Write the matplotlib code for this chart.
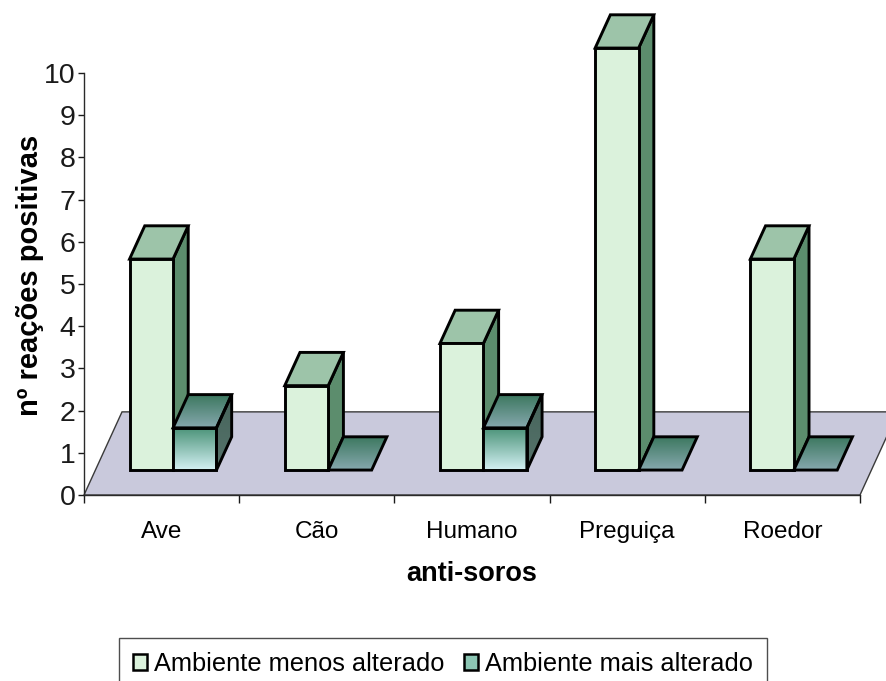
import numpy as np
import matplotlib
matplotlib.use("Agg")
import matplotlib.pyplot as plt
from matplotlib.patches import Polygon, Patch
from matplotlib.colors import to_rgb

plt.rcParams['font.family'] = ['Liberation Sans', 'DejaVu Sans']

# data
categories = ['Ave', 'Cão', 'Humano', 'Preguiça', 'Roedor']
menos_alterado = [5, 2, 3, 10, 5]
mais_alterado = [1, 0, 1, 0, 0]
series_names = ['Ambiente menos alterado', 'Ambiente mais alterado']
yticks = list(range(0, 11))

# oblique "3-D" projection: depth z in [0, 1] shifts points right/up
DX = 0.245   # category units per unit depth
DY = 1.97    # value units per unit depth
Z0, Z1 = 0.30, 0.70
BAR_W = 0.28
EDGE_LW = 2.1


def proj(x, y, z):
    return (x + z * DX, y + z * DY)


fig = plt.figure(figsize=(8.86, 6.81), dpi=100)
ax = fig.add_axes([84 / 886, 186 / 681, 776 / 886, 422 / 681])


def flat_face(pts, color, zorder, lw=EDGE_LW):
    ax.add_patch(Polygon(pts, closed=True, facecolor=color, edgecolor='black',
                         lw=lw, joinstyle='miter', zorder=zorder, clip_on=False))


def gradient_face(pts, c_top, c_bot, zorder, lw=EDGE_LW):
    poly = Polygon(pts, closed=True, facecolor='none', edgecolor='black',
                   lw=lw, joinstyle='miter', zorder=zorder + 0.05, clip_on=False)
    xs = [p[0] for p in pts]
    ys = [p[1] for p in pts]
    t = np.linspace(0, 1, 64)[:, None]
    cols = (1 - t) * np.array(to_rgb(c_top)) + t * np.array(to_rgb(c_bot))
    im = ax.imshow(cols[:, None, :], extent=(min(xs), max(xs), min(ys), max(ys)),
                   origin='upper', aspect='auto', interpolation='bilinear',
                   zorder=zorder)
    ax.add_patch(poly)
    im.set_clip_path(poly)
    im.set_clip_box(fig.bbox)


# floor
n = len(categories)
floor = [proj(-0.5, 0, 0), proj(n - 0.5, 0, 0), proj(n - 0.5, 0, 1), proj(-0.5, 0, 1)]
ax.add_patch(Polygon(floor, closed=True, facecolor='#c9c9dc', edgecolor='#3a3a3a',
                     lw=1.0, zorder=1, clip_on=False))

styles = [
    dict(front=('#dbf2dc', '#dbf2dc'), top=('#9dc4a9', '#a5c9b0'), side=('#5c8d6d', '#5f9070')),
    dict(front=('#4a9277', '#d3f0f3'), top=('#3b775e', '#86a8ae'), side=('#46645b', '#56736b')),
]

for i, cat in enumerate(categories):
    for s, vals in enumerate([menos_alterado, mais_alterado]):
        v = vals[i]
        x0 = i - BAR_W + s * BAR_W
        x1 = x0 + BAR_W
        st = styles[s]
        zb = 3 + i * 2 + s
        top = [proj(x0, v, Z0), proj(x1, v, Z0), proj(x1, v, Z1), proj(x0, v, Z1)]
        if v > 0:
            front = [proj(x0, 0, Z0), proj(x1, 0, Z0), proj(x1, v, Z0), proj(x0, v, Z0)]
            side = [proj(x1, 0, Z0), proj(x1, 0, Z1), proj(x1, v, Z1), proj(x1, v, Z0)]
            if s == 0:
                flat_face(side, st['side'][0], zb)
                flat_face(top, st['top'][0], zb)
                flat_face(front, st['front'][0], zb)
            else:
                gradient_face(side, *st['side'], zb)
                gradient_face(top, *st['top'], zb)
                gradient_face(front, *st['front'], zb)
        else:
            gradient_face(top, *st['top'], zb)

# axes styling
ax.set_xlim(-0.5, n - 0.5)
ax.set_ylim(0, 10)
ax.set_facecolor('none')
for sp in ['top', 'right']:
    ax.spines[sp].set_visible(False)
for sp in ['left', 'bottom']:
    ax.spines[sp].set_color('#2a2a2a')
    ax.spines[sp].set_linewidth(1.0)
    ax.spines[sp].set_zorder(2)

ax.set_yticks(yticks)
ax.set_yticklabels([str(t) for t in yticks], fontsize=20.5)
ax.tick_params(axis='y', direction='out', length=4.5, width=1.0, pad=1.5,
               colors='#1a1a1a')

ax.set_xticks(np.arange(-0.5, n, 1.0))
ax.set_xticklabels([])
ax.set_xticks(np.arange(n), minor=True)
ax.set_xticklabels(categories, minor=True, fontsize=17.5)
ax.tick_params(axis='x', which='major', direction='out', length=5.5, width=1.0,
               colors='#1a1a1a')
ax.tick_params(axis='x', which='minor', length=0, pad=18.5)

ax.set_ylabel('nº reações positivas', fontsize=21, fontweight='bold', va='center')
ax.yaxis.set_label_coords(-0.0696, 0.521)
ax.set_xlabel('anti-soros', fontsize=19.5, fontweight='bold', va='center')
ax.xaxis.set_label_coords(0.5, -0.187)

handles = [Patch(facecolor='#dbf2dc', edgecolor='black', lw=1.8),
           Patch(facecolor='#8cc6b4', edgecolor='black', lw=1.8)]
leg = fig.legend(handles, series_names, loc='upper center',
                 bbox_to_anchor=(443 / 886, 43 / 681), ncol=2, fontsize=18.3,
                 frameon=True, fancybox=False, edgecolor='#222222',
                 handlelength=0.55, handleheight=0.55, handletextpad=0.3,
                 columnspacing=0.75, borderpad=0.55, borderaxespad=0.0)
leg.get_frame().set_linewidth(1.0)

fig.savefig('out.png', dpi=100)
